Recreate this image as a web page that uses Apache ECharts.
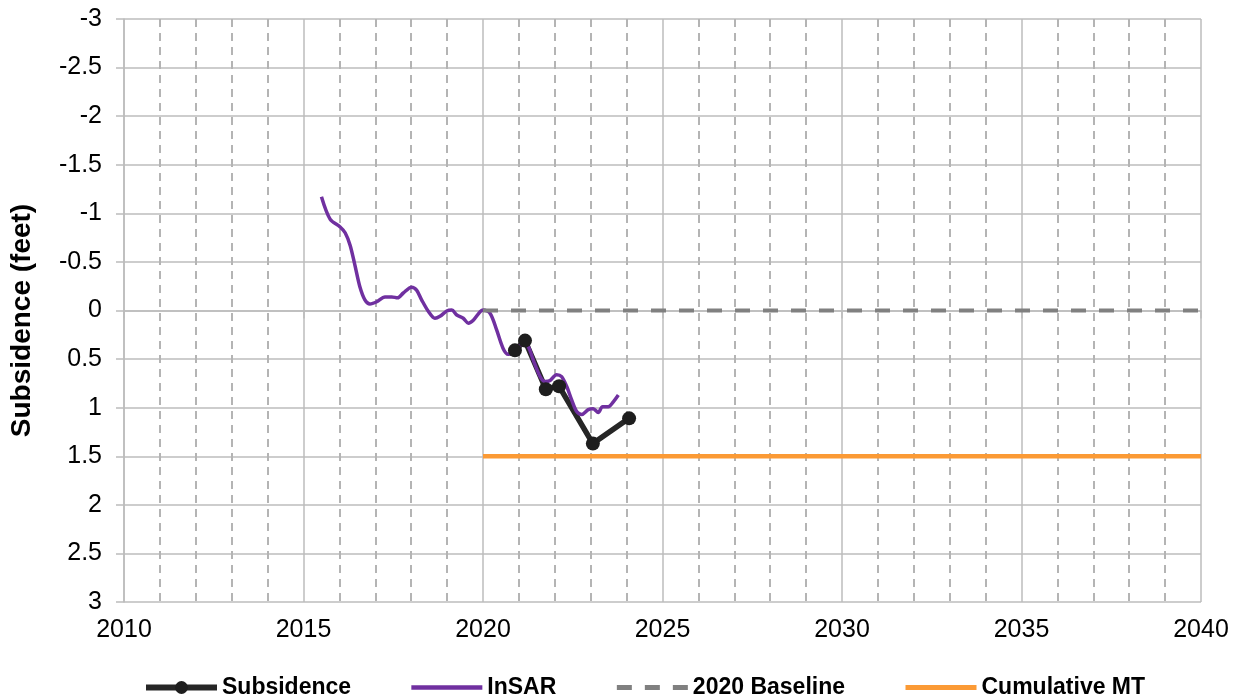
<!DOCTYPE html>
<html>
<head>
<meta charset="utf-8">
<script src="https://cdn.jsdelivr.net/npm/echarts@6/dist/echarts.min.js"></script>
<style>
  html, body { margin: 0; padding: 0; background: #fff; }
  #chart { width: 1242px; height: 700px; }
</style>
</head>
<body>
<div id="chart"></div>
<script>
// measured subsidence (feet, positive = down)
const subYears = [2020.89, 2021.17, 2021.75, 2022.12, 2023.06, 2024.07];
const subValues = [0.41, 0.31, 0.81, 0.78, 1.37, 1.11];

// InSAR trace
const insarYears = [2015.5, 2015.74, 2016.02, 2016.16, 2016.3, 2016.43, 2016.57, 2016.71, 2016.85, 2017.04,
  2017.27, 2017.46, 2017.62, 2017.78, 2018.01, 2018.15, 2018.29, 2018.48, 2018.66, 2018.8,
  2018.99, 2019.13, 2019.27, 2019.45, 2019.59, 2019.73, 2019.92, 2020.01, 2020.2, 2020.38,
  2020.56, 2020.7, 2020.84, 2020.98, 2021.12, 2021.26, 2021.4, 2021.59, 2021.73, 2021.87,
  2022.05, 2022.19, 2022.33, 2022.47, 2022.61, 2022.75, 2022.93, 2023.07, 2023.21, 2023.33,
  2023.49, 2023.63, 2023.77];
const insarValues = [-1.17, -0.94, -0.86, -0.8, -0.67, -0.47, -0.245, -0.11, -0.067, -0.09,
  -0.14, -0.14, -0.13, -0.18, -0.24, -0.21, -0.11, 0.01, 0.08, 0.06,
  0.005, -0.005, 0.046, 0.08, 0.13, 0.1, 0.012, -0.005, 0.03, 0.2,
  0.39, 0.45, 0.44, 0.39, 0.32, 0.37, 0.51, 0.68, 0.73, 0.72,
  0.66, 0.68, 0.78, 0.92, 1.04, 1.07, 1.02, 1.01, 1.05, 0.99,
  0.99, 0.94, 0.87];

const baselineYears = [2020, 2040];
const baselineValues = [0, 0];
const mtYears = [2020, 2040];
const mtValues = [1.5, 1.5];

function pairs(xs, ys) {
  return xs.map((x, i) => [x, ys[i]]);
}

const gridColor = '#bcbcbc';
const chart = echarts.init(document.getElementById('chart'));

chart.setOption({
  animation: false,
  textStyle: { fontFamily: 'Liberation Sans, Arial, sans-serif' },
  grid: { left: 124, right: 41, top: 19, bottom: 98 },
  legend: {
    top: 671,
    left: 138,
    itemWidth: 71,
    itemHeight: 16,
    itemGap: 58,
    textStyle: { fontSize: 23, fontWeight: 'bold', color: '#000' },
    data: [
      { name: 'Subsidence', lineStyle: { width: 6 } },
      { name: 'InSAR', itemStyle: { opacity: 0 }, lineStyle: { width: 4.5 } },
      { name: '2020 Baseline', itemStyle: { opacity: 0 }, lineStyle: { width: 5, type: [15, 13] } },
      { name: 'Cumulative MT', itemStyle: { opacity: 0 }, lineStyle: { width: 5 } }
    ]
  },
  xAxis: {
    type: 'value',
    min: 2010,
    max: 2040,
    interval: 5,
    axisLine: { lineStyle: { color: gridColor, width: 1.5 } },
    axisTick: { show: true, length: 8, lineStyle: { color: gridColor, width: 1.5 } },
    axisLabel: { fontSize: 25, color: '#000', margin: 16, formatter: v => String(v) },
    splitLine: { show: true, lineStyle: { color: gridColor, width: 1.5 } },
    minorTick: { show: false, splitNumber: 5 },
    minorSplitLine: { show: true, lineStyle: { color: '#b4b4b4', type: [8, 6], width: 2 } }
  },
  yAxis: {
    type: 'value',
    inverse: true,
    min: -3,
    max: 3,
    interval: 0.5,
    name: 'Subsidence (feet)',
    nameLocation: 'middle',
    nameGap: 88,
    nameTextStyle: { fontSize: 28, fontWeight: 'bold', color: '#000', padding: [0, 20, 0, 0] },
    axisLine: { show: true, lineStyle: { color: gridColor, width: 1.5 } },
    axisTick: { show: true, length: 8, lineStyle: { color: gridColor, width: 1.5 } },
    axisLabel: { fontSize: 25, color: '#000', margin: 22, formatter: v => String(Math.round(v * 10) / 10) },
    splitLine: { show: true, lineStyle: { color: gridColor, width: 1.5 } }
  },
  series: [
    {
      name: 'Subsidence',
      type: 'line',
      data: pairs(subYears, subValues),
      symbol: 'circle',
      symbolSize: 14,
      itemStyle: { color: '#1e1e1e' },
      lineStyle: { color: '#262626', width: 5.5 }
    },
    {
      name: 'InSAR',
      type: 'line',
      data: pairs(insarYears, insarValues),
      symbol: 'none',
      smooth: 0.3,
      itemStyle: { color: '#7030a0' },
      lineStyle: { color: '#7030a0', width: 3.5 }
    },
    {
      name: '2020 Baseline',
      type: 'line',
      data: pairs(baselineYears, baselineValues),
      symbol: 'none',
      itemStyle: { color: '#808080' },
      lineStyle: { color: '#808080', width: 4, type: [15, 13] }
    },
    {
      name: 'Cumulative MT',
      type: 'line',
      data: pairs(mtYears, mtValues),
      symbol: 'none',
      itemStyle: { color: '#fb9a35' },
      lineStyle: { color: '#fb9a35', width: 4.5 }
    }
  ]
});
</script>
</body>
</html>
